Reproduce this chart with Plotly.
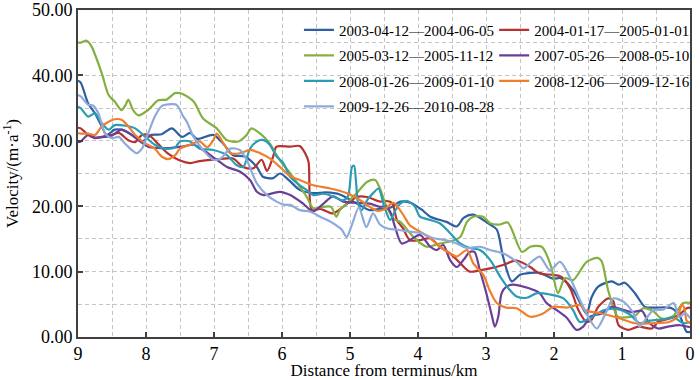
import plotly.graph_objects as go

names = [
    "2003-04-12—2004-06-05",
    "2004-01-17—2005-01-01",
    "2005-03-12—2005-11-12",
    "2007-05-26—2008-05-10",
    "2008-01-26—2009-01-10",
    "2008-12-06—2009-12-16",
    "2009-12-26—2010-08-28",
]
colors = ["#2e5fa3", "#b8312f", "#84b040", "#6b3f98", "#2b9cb5", "#ef7f2e", "#8eaadb"]

d_2003 = [9.0, 8.96, 8.85, 8.75, 8.65, 8.58, 8.46, 8.36, 8.21, 8.06, 7.92, 7.77, 7.62, 7.47, 7.35, 7.25,
          7.01, 6.86, 6.72, 6.55, 6.37, 6.28, 6.13, 6.03, 5.9, 5.74, 5.54, 5.35, 5.15, 4.9, 4.71, 4.56,
          4.4, 4.26, 4.1, 3.95, 3.82, 3.58, 3.43, 3.33, 3.19, 3.04, 2.94, 2.84, 2.75, 2.62, 2.5, 2.35,
          2.21, 2.01, 1.9, 1.72, 1.6, 1.52, 1.45, 1.35, 1.15, 1.05, 0.96, 0.81, 0.66, 0.5, 0.27, 0.15,
          0.05, 0.0]
v_2003 = [39.2, 38.9, 35.7, 34.2, 32.2, 30.9, 31.7, 31.7, 30.9, 29.9, 30.9, 31.0, 31.9, 30.6, 31.2, 30.3,
          30.9, 29.5, 27.8, 27.6, 26.0, 24.5, 24.3, 25.0, 24.0, 22.5, 22.0, 22.1, 21.8, 20.4, 19.4, 19.6,
          19.8, 20.7, 20.5, 19.5, 18.4, 17.6, 16.9, 18.2, 18.7, 17.9, 17.2, 16.4, 12.3, 8.5, 9.5, 9.8,
          9.8, 8.9, 9.0, 7.2, 4.9, 3.5, 6.0, 7.7, 8.5, 8.0, 8.3, 6.7, 4.6, 4.5, 4.4, 3.2,
          0.8, 0.8]

d_2004 = [9.0, 8.96, 8.85, 8.75, 8.65, 8.5, 8.4, 8.26, 8.16, 8.06, 7.95, 7.82, 7.67, 7.5, 7.35, 7.21,
          6.91, 6.72, 6.57, 6.42, 6.3, 6.22, 6.13, 6.08, 5.88, 5.74, 5.66, 5.61, 5.56, 5.44, 5.25, 5.1,
          4.9, 4.75, 4.56, 4.46, 4.38, 4.31, 4.22, 4.12, 3.97, 3.82, 3.68, 3.53, 3.38, 3.24, 3.09, 2.94,
          2.75, 2.55, 2.35, 2.21, 2.01, 1.89, 1.76, 1.64, 1.52, 1.45, 1.35, 1.2, 1.13, 1.05, 0.91, 0.76,
          0.56, 0.47, 0.27, 0.15, 0.05, 0.0]
v_2004 = [32.0, 31.9, 30.9, 30.4, 30.6, 30.9, 31.2, 30.1, 29.8, 30.9, 30.8, 29.5, 28.0, 27.0, 26.6, 26.9,
          27.2, 27.3, 26.0, 25.8, 27.1, 25.4, 27.6, 29.1, 29.1, 29.2, 28.1, 26.8, 19.4, 19.6, 18.9, 19.9,
          21.4, 21.4, 20.7, 20.8, 20.5, 17.9, 16.6, 14.8, 14.8, 15.1, 13.8, 12.8, 11.3, 10.0, 10.2, 10.5,
          11.0, 11.7, 10.7, 9.7, 9.5, 9.2, 7.4, 4.1, 2.3, 2.6, 4.6, 5.9, 5.5, 1.8, 1.1, 1.6,
          1.3, 2.3, 2.9, 3.5, 4.4, 4.5]

d_2005 = [9.0, 8.96, 8.87, 8.8, 8.65, 8.55, 8.46, 8.36, 8.3, 8.26, 8.19, 8.11, 7.97, 7.82, 7.7, 7.57,
          7.47, 7.3, 7.16, 6.96, 6.81, 6.64, 6.52, 6.45, 6.32, 6.18, 6.08, 6.0, 5.9, 5.74, 5.64, 5.54,
          5.39, 5.28, 5.2, 5.15, 5.05, 4.9, 4.75, 4.63, 4.56, 4.46, 4.35, 4.26, 4.12, 4.02, 3.87, 3.68,
          3.53, 3.38, 3.28, 3.19, 3.04, 2.94, 2.8, 2.68, 2.47, 2.35, 2.18, 2.05, 1.94, 1.84, 1.72, 1.52,
          1.36, 1.3, 1.2, 1.06, 0.95, 0.8, 0.69, 0.55, 0.41, 0.25, 0.1, 0.0]
v_2005 = [45.0, 45.0, 45.3, 44.4, 40.3, 37.0, 36.0, 34.7, 35.5, 36.3, 34.7, 33.9, 34.7, 36.2, 36.3, 37.3,
          37.2, 36.0, 33.4, 31.9, 30.1, 29.9, 30.9, 31.9, 31.1, 29.6, 27.8, 26.6, 25.3, 23.0, 21.5, 19.7,
          19.9, 19.9, 18.4, 19.4, 20.4, 22.0, 23.7, 24.0, 22.7, 19.9, 18.0, 17.6, 15.9, 14.8, 13.8, 14.3,
          14.6, 15.3, 17.6, 18.4, 18.4, 17.4, 17.2, 17.5, 13.0, 13.8, 13.8, 11.0, 6.7, 9.0, 8.7, 11.5,
          12.1, 11.6, 7.0, 3.1, 3.0, 3.3, 4.4, 4.0, 2.8, 3.2, 5.2, 5.2]

d_2007 = [9.0, 8.96, 8.85, 8.75, 8.6, 8.5, 8.36, 8.25, 8.11, 7.97, 7.82, 7.65, 7.47, 7.3, 7.16, 6.96,
          6.81, 6.62, 6.47, 6.37, 6.27, 6.13, 6.03, 5.88, 5.69, 5.54, 5.39, 5.25, 5.1, 4.9, 4.71, 4.56,
          4.48, 4.41, 4.34, 4.24, 4.12, 3.97, 3.82, 3.72, 3.63, 3.53, 3.43, 3.33, 3.24, 3.17, 3.09, 2.99,
          2.91, 2.87, 2.82, 2.77, 2.7, 2.6, 2.45, 2.3, 2.21, 2.11, 1.96, 1.81, 1.67, 1.57, 1.47, 1.3,
          1.15, 1.0, 0.85, 0.71, 0.61, 0.47, 0.32, 0.15, 0.05, 0.0]
v_2007 = [29.8, 29.9, 30.9, 30.5, 30.6, 30.8, 31.7, 31.2, 30.1, 29.1, 28.9, 28.9, 29.1, 29.4, 28.6, 27.1,
          26.0, 25.3, 24.0, 22.2, 21.7, 22.0, 22.2, 21.7, 20.4, 19.2, 20.4, 21.5, 20.7, 20.5, 20.4, 19.9,
          20.0, 19.2, 16.9, 14.3, 14.8, 15.6, 13.8, 13.3, 14.1, 11.8, 10.7, 11.8, 13.0, 13.0, 10.2, 6.5,
          3.1, 1.6, 3.1, 6.7, 7.7, 8.0, 7.7, 7.2, 6.7, 5.2, 4.1, 2.9, 1.1, 1.6, 3.1, 3.6,
          4.6, 4.2, 3.8, 4.0, 2.3, 1.3, 1.6, 1.8, 1.6, 1.5]

d_2008a = [9.0, 8.96, 8.85, 8.75, 8.65, 8.55, 8.46, 8.3, 8.16, 8.01, 7.87, 7.72, 7.57, 7.5, 7.35, 7.21,
           7.01, 6.81, 6.67, 6.57, 6.47, 6.37, 6.27, 6.18, 6.08, 5.98, 5.88, 5.74, 5.64, 5.54, 5.39, 5.25,
           5.1, 5.03, 4.97, 4.94, 4.91, 4.88, 4.83, 4.75, 4.66, 4.58, 4.51, 4.46, 4.41, 4.34, 4.26, 4.17,
           4.05, 3.97, 3.82, 3.68, 3.53, 3.38, 3.24, 3.09, 2.94, 2.79, 2.65, 2.55, 2.4, 2.25, 2.06, 1.86,
           1.72, 1.62, 1.47, 1.27, 1.08, 0.88, 0.74, 0.59, 0.39, 0.24, 0.1, 0.0]
v_2008a = [35.2, 35.0, 33.7, 34.2, 32.7, 31.7, 32.4, 32.3, 31.9, 30.6, 29.4, 28.8, 29.0, 29.9, 29.9, 28.8,
           28.6, 27.8, 26.3, 26.0, 28.8, 29.9, 30.1, 29.4, 27.6, 26.6, 24.5, 23.2, 22.5, 21.7, 21.9, 21.5,
           20.9, 21.5, 26.0, 26.2, 23.5, 20.4, 19.4, 20.9, 22.0, 22.7, 20.4, 18.9, 17.9, 19.2, 20.4, 20.8,
           20.0, 18.4, 17.9, 17.4, 15.9, 14.3, 13.6, 13.3, 11.8, 9.2, 7.2, 6.2, 6.0, 6.7, 6.5, 5.9,
           4.1, 2.3, 2.9, 4.1, 4.3, 3.4, 2.1, 2.5, 2.7, 3.0, 2.1, 2.3]

d_2008b = [9.0, 8.96, 8.85, 8.75, 8.65, 8.55, 8.46, 8.36, 8.26, 8.16, 8.01, 7.87, 7.77, 7.67, 7.57, 7.5,
           7.35, 7.21, 7.1, 7.01, 6.96, 6.86, 6.76, 6.62, 6.47, 6.32, 6.18, 6.03, 5.88, 5.74, 5.54, 5.29,
           5.05, 4.85, 4.71, 4.6, 4.5, 4.36, 4.22, 4.12, 3.97, 3.82, 3.68, 3.53, 3.43, 3.28, 3.19, 3.04,
           2.94, 2.84, 2.7, 2.55, 2.35, 2.16, 2.01, 1.81, 1.62, 1.54, 1.3, 1.05, 0.81, 0.56, 0.31, 0.19,
           0.12, 0.08, 0.05, 0.0]
v_2008b = [31.2, 31.1, 31.1, 30.9, 32.2, 32.9, 33.3, 33.2, 32.2, 30.9, 29.6, 28.8, 27.6, 27.2, 27.8, 28.8,
           29.4, 29.9, 29.0, 30.1, 31.1, 29.6, 28.1, 28.1, 28.6, 28.1, 27.3, 26.0, 24.6, 24.0, 23.2, 22.7,
           22.0, 20.9, 19.9, 19.3, 19.5, 20.5, 18.7, 17.1, 16.1, 15.1, 13.8, 12.8, 12.3, 13.3, 11.3, 9.5,
           7.0, 5.2, 4.5, 4.4, 3.1, 3.6, 4.6, 4.5, 4.9, 4.1, 3.6, 2.9, 2.1, 2.1, 2.3, 3.0,
           4.9, 4.3, 2.5, 2.1]

d_2009 = [9.0, 8.96, 8.85, 8.78, 8.7, 8.6, 8.5, 8.4, 8.31, 8.21, 8.14, 8.06, 7.97, 7.87, 7.77, 7.62,
          7.55, 7.45, 7.4, 7.3, 7.16, 7.01, 6.9, 6.76, 6.62, 6.52, 6.37, 6.22, 6.08, 5.96, 5.88, 5.74,
          5.59, 5.44, 5.25, 5.12, 5.05, 4.97, 4.87, 4.76, 4.66, 4.56, 4.45, 4.31, 4.12, 3.95, 3.77, 3.58,
          3.43, 3.28, 3.09, 2.94, 2.75, 2.55, 2.45, 2.33, 2.21, 2.06, 1.91, 1.76, 1.62, 1.47, 1.37, 1.22,
          1.13, 0.98, 0.83, 0.74, 0.64, 0.54, 0.39, 0.24, 0.16, 0.07, 0.0]
v_2009 = [37.0, 36.8, 35.5, 35.4, 34.2, 31.1, 30.4, 30.6, 29.6, 28.6, 28.1, 28.8, 31.1, 33.7, 35.3, 35.6,
          35.5, 33.7, 32.9, 30.6, 28.6, 27.1, 27.3, 28.8, 28.6, 27.1, 23.5, 21.7, 20.7, 20.2, 20.2, 19.4,
          19.2, 18.4, 17.4, 16.4, 15.3, 17.2, 19.8, 16.8, 18.9, 17.2, 16.6, 16.4, 16.1, 15.9, 15.1, 14.8,
          14.3, 13.6, 13.8, 13.3, 12.8, 11.5, 10.5, 11.5, 12.3, 10.2, 11.5, 9.0, 5.7, 2.6, 1.3, 4.1,
          5.9, 5.4, 3.6, 1.6, 2.9, 4.1, 4.2, 5.2, 3.1, 3.6, 2.9]

series_d = [d_2003, d_2004, d_2005, d_2007, d_2008a, d_2008b, d_2009]
series_v = [v_2003, v_2004, v_2005, v_2007, v_2008a, v_2008b, v_2009]

x_ticks = [9, 8, 7, 6, 5, 4, 3, 2, 1, 0]
y_ticks = [0, 10, 20, 30, 40, 50]

FONT = "Liberation Serif, Times New Roman, serif"

fig = go.Figure()
for i, (name, col, d, v) in enumerate(zip(names, colors, series_d, series_v)):
    fig.add_trace(go.Scatter(x=d, y=v, mode="lines", name=name,
                             legend="legend" if i % 2 == 0 else "legend2",
                             legendgroup=f"g{i}",
                             line=dict(color=col, width=2.2, shape="spline", smoothing=0.8)))

GRID = "#c4c4c4"
DASH = "4px,3px"

legend_common = dict(xanchor="left", yanchor="top", orientation="v",
                     bgcolor="rgba(0,0,0,0)", font=dict(family=FONT, size=15, color="black"),
                     tracegroupgap=3, itemwidth=30)

fig.update_layout(
    width=700, height=380,
    margin=dict(l=78, r=10, t=10, b=43, autoexpand=False),
    paper_bgcolor="white", plot_bgcolor="white",
    font=dict(family=FONT, color="black", size=16),
    showlegend=True,
    legend=dict(x=0.361, y=0.989, **legend_common),
    legend2=dict(x=0.680, y=0.989, **legend_common),
    xaxis=dict(range=[9, 0], tickvals=x_ticks, ticktext=[str(t) for t in x_ticks],
               ticks="inside", ticklen=5, tickcolor="#404040", tickwidth=1.5,
               showline=True, linecolor="#404040", linewidth=1.6, mirror=True,
               tickfont=dict(size=18), zeroline=False, automargin=False, ticklabeloverflow="allow",
               title=dict(text="Distance from terminus/km", font=dict(size=17), standoff=0),
               showgrid=True, gridcolor=GRID, gridwidth=1, griddash=DASH,
               minor=dict(dtick=0.5, tick0=0, showgrid=True, gridcolor=GRID, griddash=DASH, ticks="")),
    yaxis=dict(range=[0, 50], tickvals=y_ticks, ticktext=[f"{t:.2f}" for t in y_ticks],
               ticks="inside", ticklen=5, tickcolor="#404040", tickwidth=1.5,
               showline=True, linecolor="#404040", linewidth=1.6, mirror=True,
               tickfont=dict(size=18), zeroline=False, automargin=False, ticklabeloverflow="allow",
               title=dict(text="Velocity/(m·a<sup>-1</sup>)", font=dict(size=17), standoff=12),
               showgrid=True, gridcolor=GRID, gridwidth=1, griddash=DASH,
               minor=dict(dtick=5, tick0=0, showgrid=True, gridcolor=GRID, griddash=DASH, ticks="")),
)

# remove the browser's default 8px body margin so the 700x380 figure fills the window
fig.write_html("out.html", config={"displayModeBar": False},
               post_script="document.body.style.margin='0';")
